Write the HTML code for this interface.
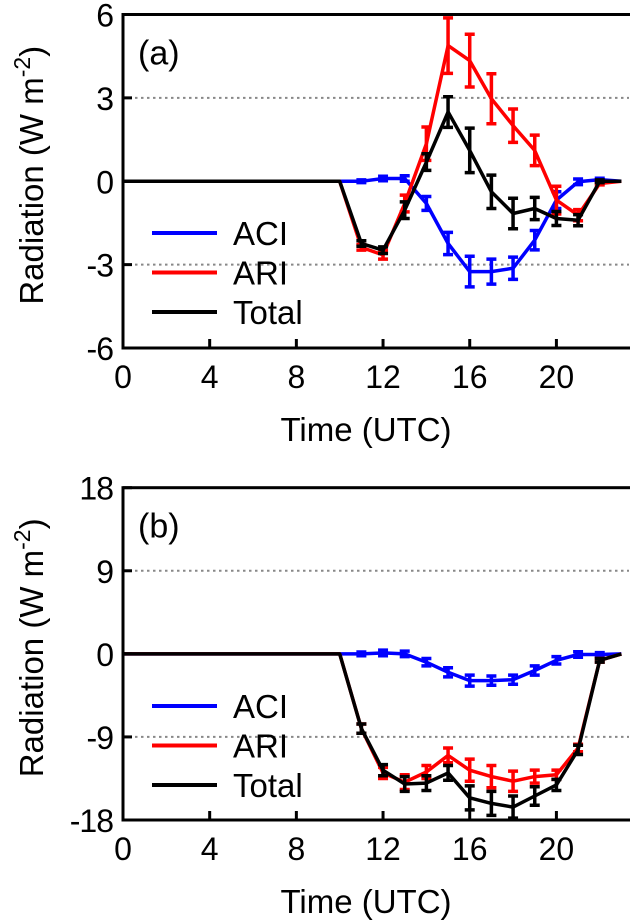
<!DOCTYPE html>
<html><head><meta charset="utf-8"><style>
html,body{margin:0;padding:0;background:#fff;}
svg{display:block;font-family:"Liberation Sans",Arial,sans-serif;}
</style></head><body>
<svg id="chart" width="630" height="920" viewBox="0 0 630 920"></svg>
<script>
const hours = [0,1,2,3,4,5,6,7,8,9,10,11,12,13,14,15,16,17,18,19,20,21,22,23];
const aAci = [0,0,0,0,0,0,0,0,0,0,0,0,0.1,0.1,-0.8,-2.24,-3.25,-3.25,-3.13,-2.12,-0.68,-0.02,0.06,0];
const aAciErr = [0,0,0,0,0,0,0,0,0,0,0,0.05,0.08,0.1,0.25,0.4,0.55,0.45,0.4,0.35,0.3,0.1,0.05,0];
const aAri = [0,0,0,0,0,0,0,0,0,0,0,-2.38,-2.65,-0.8,1.35,4.88,4.34,2.97,2.0,1.11,-0.68,-1.22,-0.08,0];
const aAriErr = [0,0,0,0,0,0,0,0,0,0,0,0.1,0.15,0.3,0.6,1.0,0.95,0.9,0.6,0.55,0.5,0.2,0.05,0];
const aTot = [0,0,0,0,0,0,0,0,0,0,0,-2.24,-2.48,-1.04,0.69,2.49,1.11,-0.38,-1.16,-0.98,-1.34,-1.4,0,0];
const aTotErr = [0,0,0,0,0,0,0,0,0,0,0,0.1,0.12,0.3,0.3,0.55,0.8,0.6,0.55,0.4,0.25,0.2,0.05,0];
const bAci = [0,0,0,0,0,0,0,0,0,0,0,0,0.1,0,-0.9,-2.0,-2.9,-2.9,-2.8,-1.8,-0.7,-0.07,-0.07,0];
const bAciErr = [0,0,0,0,0,0,0,0,0,0,0,0.2,0.3,0.3,0.4,0.5,0.6,0.5,0.5,0.5,0.4,0.3,0.2,0];
const bAri = [0,0,0,0,0,0,0,0,0,0,0,-8.1,-12.9,-13.9,-12.8,-11.0,-12.6,-13.3,-13.8,-13.3,-13.1,-10.2,-0.7,0];
const bAriErr = [0,0,0,0,0,0,0,0,0,0,0,0.5,0.6,0.8,0.7,0.8,1.2,1.2,1.1,0.7,0.5,0.4,0.2,0];
const bTot = [0,0,0,0,0,0,0,0,0,0,0,-8.1,-12.6,-14.1,-14.0,-12.9,-15.6,-16.2,-16.6,-15.4,-14.2,-10.4,-0.7,0];
const bTotErr = [0,0,0,0,0,0,0,0,0,0,0,0.5,0.6,0.8,0.8,0.8,1.3,1.3,1.2,1.0,0.6,0.5,0.2,0];
const xTicks = [0,4,8,12,16,20];
const aYTicks = [6,3,0,-3,-6];
const bYTicks = [18,9,0,-9,-18];
const seriesNames = ["ACI","ARI","Total"];

const NS = "http://www.w3.org/2000/svg";
const svg = document.getElementById("chart");
function mk(tag, attrs, parent){
  const e = document.createElementNS(NS, tag);
  for (const k in attrs) e.setAttribute(k, attrs[k]);
  (parent||svg).appendChild(e);
  return e;
}
const L = 123, R = 629, X0 = 0, X1 = 23.35;
function xs(v){ return L + (v - X0) / (X1 - X0) * (R - L); }

function panel(id, top, bottom, yMin, yMax, yTicks, series, label, legendY){
  const g = mk("g", {});
  
  
  const ys = v => bottom - (v - yMin) / (yMax - yMin) * (bottom - top);
  yTicks.forEach(t => {
    if (t === yMax || t === yMin || t === 0) return;
    const ln = mk("line", {x1:L, x2:R, y1:ys(t), y2:ys(t), stroke:"#888", "stroke-width":2, "stroke-dasharray":"2.5,3.5"}, g);
    
    
  });
  const colors = ["#0000ff","#ff0000","#000000"];
  [0,1,2].forEach(si => {
    const s = series[si];
    const sg = mk("g", {}, g);
    
    
    const pts = hours.map((h,i) => xs(h).toFixed(1) + "," + ys(s.v[i]).toFixed(1)).join(" ");
    const pl = mk("polyline", {points:pts, fill:"none", stroke:colors[si], "stroke-width":3.5, "stroke-linejoin":"round"}, sg);
    
    
    hours.forEach((h,i) => {
      if (h < 11 || h > 22) return;
      const x = xs(h), y1 = ys(s.v[i] + s.e[i]), y2 = ys(s.v[i] - s.e[i]);
      const eb = mk("path", {d:`M${x},${y1}V${y2}M${x-5},${y1}H${x+5}M${x-5},${y2}H${x+5}`, stroke:colors[si], "stroke-width":3.5, fill:"none"}, sg);
      
      
    });
  });
  const fr = mk("rect", {x:L, y:top, width:R-L+6, height:bottom-top, fill:"none", stroke:"#000", "stroke-width":3}, g);
  
  
  xTicks.forEach(t => {
    const x = xs(t);
    mk("line", {x1:x, x2:x, y1:bottom, y2:bottom-9, stroke:"#000", "stroke-width":3}, g);
    const tx = mk("text", {x:x, y:bottom+40, "font-size":32, "text-anchor":"middle"}, g);
    tx.textContent = t;
    
    
  });
  yTicks.forEach(t => {
    const y = ys(t);
    mk("line", {x1:L, x2:L+9, y1:y, y2:y, stroke:"#000", "stroke-width":3}, g);
    const tx = mk("text", {x:L-10, y:y+12, "font-size":32, "text-anchor":"end", "letter-spacing":"-1"}, g);
    tx.textContent = t;
    
    
  });
  const pl = mk("text", {x:138, y:top+50, "font-size":34}, g);
  pl.textContent = label;
  
  
  const xt = mk("text", {x:(L+R)/2 - 10, y:bottom+93, "font-size":33, "text-anchor":"middle"}, g);
  xt.textContent = "Time (UTC)";
  
  
  const yt = mk("text", {x:0, y:0, "font-size":33, "text-anchor":"middle", transform:`translate(43,${(top+bottom)/2 - 6}) rotate(-90)`}, g);
  yt.innerHTML = 'Radiation (W m<tspan dy="-13" font-size="23">-2</tspan><tspan dy="13">)</tspan>';
  
  
  seriesNames.forEach((n,i) => {
    const y = legendY + i*39.5;
    const le = mk("g", {}, g);
    
    
    mk("line", {x1:152, x2:217, y1:y, y2:y, stroke:colors[i], "stroke-width":4}, le);
    const t = mk("text", {x:233, y:y+12, "font-size":33}, le);
    t.textContent = n;
  });
}
panel("a", 14.5, 348, -6, 6, aYTicks,
  [{v:aAci,e:aAciErr},{v:aAri,e:aAriErr},{v:aTot,e:aTotErr}], "(a)", 233);
panel("b", 487.7, 820, -18, 18, bYTicks,
  [{v:bAci,e:bAciErr},{v:bAri,e:bAriErr},{v:bTot,e:bTotErr}], "(b)", 706);
</script>
</body></html>
